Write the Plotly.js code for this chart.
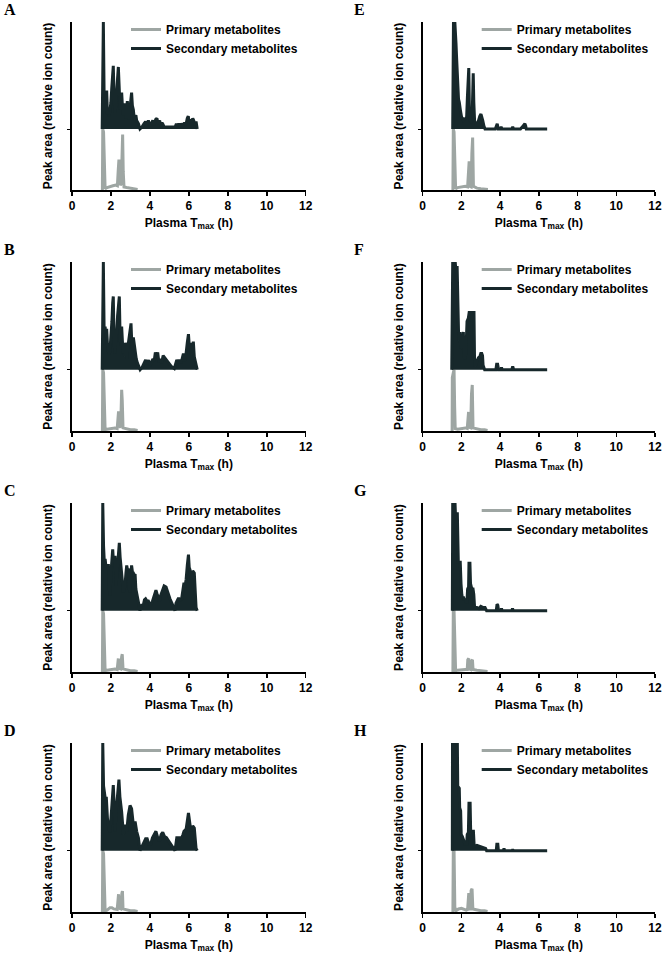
<!DOCTYPE html>
<html><head><meta charset="utf-8">
<script src="https://cdn.plot.ly/plotly-3.0.1.min.js"></script>
<style>html,body{margin:0;padding:0;background:#fff}#chart{width:663px;height:957px}</style>
</head><body><div id="chart"></div>
<script>
// ---------- DATA ----------
const panelLetters = ['A','B','C','D','E','F','G','H'];
const seriesNames = ['Primary metabolites','Secondary metabolites'];
const xTickValues = [0,2,4,6,8,10,12];
const xTickLabels = ['0','2','4','6','8','10','12'];
const xTitle = 'Plasma T<sub>max</sub> (h)';
const yTitle = 'Peak area (relative ion count)';

// [Tmax (h), relative peak area 0-100]
const primaryA = [[1.56,0],[1.58,100],[1.62,95],[1.66,10],[1.70,2],[1.8,4],[1.95,6],[2.1,7],[2.25,8],[2.33,7],[2.37,30],[2.41,50],[2.44,20],[2.48,8],[2.53,10],[2.57,60],[2.6,91],[2.63,30],[2.67,5],[2.8,4],[3.0,3],[3.2,2],[3.37,1]];
const secondaryA = [[1.55,0],[1.58,60],[1.61,100],[1.65,30],[1.70,17],[1.74,28],[1.78,36],[1.82,14],[1.87,20],[1.91,12],[1.95,18],[2.00,25],[2.04,38],[2.08,50],[2.12,59],[2.16,30],[2.21,15],[2.25,22],[2.29,30],[2.33,45],[2.38,58],[2.42,35],[2.47,18],[2.51,26],[2.55,34],[2.60,18],[2.64,13],[2.68,24],[2.72,17],[2.78,10],[2.84,26],[2.89,12],[2.93,9],[2.98,20],[3.02,30],[3.06,34],[3.10,22],[3.15,18],[3.20,9],[3.24,11],[3.28,13],[3.32,8],[3.41,5],[3.49,0],[3.60,2],[3.70,5],[3.78,7],[3.85,3],[3.92,8],[4.00,4],[4.08,5],[4.15,8],[4.22,4],[4.30,9],[4.36,10],[4.42,5],[4.50,8],[4.56,3],[4.62,6],[4.68,4],[4.72,2],[5.00,2],[5.30,2],[5.36,5],[5.42,3],[5.48,5],[5.55,2],[5.62,5],[5.70,3],[5.78,6],[5.85,4],[5.92,10],[5.97,12],[6.02,6],[6.08,9],[6.14,5],[6.20,10],[6.25,8],[6.31,4],[6.37,7],[6.43,0]];

const primaryB = [[1.56,0],[1.58,100],[1.62,95],[1.66,8],[1.70,2],[1.8,3],[2.0,4],[2.2,5],[2.32,4],[2.36,20],[2.39,32],[2.42,8],[2.5,6],[2.55,67],[2.58,50],[2.62,5],[2.8,3],[3.0,2],[3.2,2],[3.37,1]];
const secondaryB = [[1.55,0],[1.58,60],[1.61,100],[1.65,35],[1.70,40],[1.74,30],[1.78,38],[1.83,20],[1.90,14],[1.95,18],[2.00,28],[2.05,45],[2.09,62],[2.12,68],[2.16,25],[2.21,15],[2.25,30],[2.29,34],[2.34,50],[2.39,62],[2.43,68],[2.47,30],[2.51,22],[2.55,40],[2.58,30],[2.62,15],[2.66,20],[2.70,12],[2.74,25],[2.78,12],[2.82,10],[2.86,20],[2.90,26],[2.95,30],[3.00,38],[3.03,43],[3.07,25],[3.11,18],[3.15,30],[3.19,25],[3.24,15],[3.30,10],[3.36,6],[3.44,3],[3.50,0],[3.60,2],[3.70,6],[3.78,9],[3.86,5],[3.94,9],[4.00,4],[4.08,6],[4.15,10],[4.22,8],[4.28,16],[4.34,13],[4.40,16],[4.46,7],[4.52,10],[4.60,6],[4.68,13],[4.80,10],[4.95,6],[5.10,3],[5.25,1],[5.32,6],[5.38,9],[5.45,7],[5.52,9],[5.60,6],[5.66,10],[5.72,15],[5.78,8],[5.85,14],[5.92,25],[5.98,33],[6.03,20],[6.08,25],[6.12,14],[6.18,22],[6.23,26],[6.28,12],[6.34,8],[6.38,4],[6.43,0]];

const primaryC = [[1.56,0],[1.58,100],[1.62,95],[1.66,8],[1.70,2],[1.8,3],[2.0,4],[2.2,5],[2.32,4],[2.35,15],[2.38,22],[2.42,6],[2.5,5],[2.55,25],[2.58,29],[2.62,5],[2.8,3],[3.0,2],[3.2,2],[3.37,1]];
const secondaryC = [[1.55,0],[1.58,100],[1.62,60],[1.66,45],[1.70,48],[1.75,40],[1.80,42],[1.87,42],[1.92,20],[1.95,14],[2.00,35],[2.04,48],[2.09,57],[2.13,45],[2.16,48],[2.21,51],[2.26,23],[2.30,35],[2.33,42],[2.38,55],[2.43,63],[2.47,50],[2.50,45],[2.55,38],[2.60,25],[2.64,17],[2.68,20],[2.72,23],[2.77,35],[2.81,42],[2.85,38],[2.89,38],[2.94,20],[2.98,17],[3.02,32],[3.06,42],[3.11,35],[3.15,35],[3.20,33],[3.24,34],[3.28,20],[3.32,17],[3.41,8],[3.49,0],[3.58,5],[3.66,5],[3.72,10],[3.78,11],[3.85,9],[3.92,9],[4.04,5],[4.12,8],[4.18,11],[4.25,15],[4.31,19],[4.36,16],[4.40,14],[4.49,9],[4.55,14],[4.61,17],[4.67,20],[4.73,23],[4.83,22],[4.93,16],[5.03,11],[5.15,6],[5.29,0],[5.34,7],[5.38,9],[5.45,11],[5.51,11],[5.57,10],[5.63,11],[5.70,18],[5.75,26],[5.80,22],[5.86,29],[5.92,42],[5.98,52],[6.02,40],[6.06,38],[6.11,29],[6.16,33],[6.20,37],[6.28,35],[6.33,15],[6.37,3],[6.43,0]];

const primaryD = [[1.56,0],[1.58,100],[1.62,95],[1.66,8],[1.70,2],[1.8,3],[1.95,7],[2.05,7],[2.15,5],[2.32,4],[2.36,20],[2.39,29],[2.42,6],[2.5,5],[2.56,30],[2.59,34],[2.62,5],[2.8,3],[3.0,2],[3.2,2],[3.37,1]];
const secondaryD = [[1.55,0],[1.58,100],[1.62,60],[1.66,52],[1.71,48],[1.76,50],[1.82,30],[1.90,20],[1.95,17],[2.04,40],[2.12,61],[2.17,40],[2.21,18],[2.26,35],[2.33,50],[2.41,66],[2.46,50],[2.55,36],[2.64,15],[2.72,24],[2.81,18],[2.89,33],[2.98,42],[3.06,39],[3.15,24],[3.24,27],[3.32,18],[3.41,12],[3.49,0],[3.60,5],[3.70,8],[3.78,11],[3.86,11],[3.95,6],[4.04,6],[4.13,12],[4.22,15],[4.31,18],[4.40,12],[4.49,9],[4.58,15],[4.66,17],[4.75,13],[4.85,12],[5.00,8],[5.15,4],[5.29,0],[5.38,12],[5.51,12],[5.63,12],[5.70,15],[5.75,18],[5.86,20],[5.92,28],[5.98,35],[6.06,24],[6.11,18],[6.16,20],[6.20,23],[6.28,21],[6.33,12],[6.37,2],[6.43,0]];

const primaryE = [[1.56,0],[1.58,100],[1.62,95],[1.66,8],[1.70,2],[1.8,4],[2.0,5],[2.2,6],[2.32,5],[2.36,30],[2.40,47],[2.43,6],[2.5,5],[2.54,60],[2.58,86],[2.62,6],[2.8,3],[3.0,2],[3.2,2],[3.37,1]];
const secondaryE = [[1.55,0],[1.57,70],[1.59,100],[1.66,100],[1.68,85],[1.72,80],[1.75,67],[1.79,50],[1.82,45],[1.85,28],[1.89,25],[1.92,18],[1.96,16],[2.01,11],[2.06,10],[2.10,8],[2.16,9],[2.22,10],[2.27,11],[2.31,30],[2.35,45],[2.38,57],[2.41,20],[2.44,8],[2.50,7],[2.55,10],[2.58,30],[2.61,52],[2.64,25],[2.68,8],[2.74,5],[2.79,3],[2.85,6],[2.90,10],[2.95,12],[3.01,14],[3.05,12],[3.10,8],[3.16,3],[3.22,0],[3.75,0],[3.80,4],[3.85,5],[3.9,0],[4.0,0],[4.05,2],[4.1,0],[4.6,0],[4.65,2],[4.7,0],[5.05,0],[5.15,2],[5.22,4],[5.28,5],[5.32,3],[5.35,0],[6.43,0]];

const primaryF = [[1.52,0],[1.53,87],[1.58,95],[1.62,100],[1.65,40],[1.68,4],[1.8,3],[2.0,4],[2.2,5],[2.30,4],[2.34,25],[2.37,31],[2.40,6],[2.48,5],[2.52,60],[2.56,75],[2.60,5],[2.8,3],[3.0,2],[3.2,2],[3.35,1]];
const secondaryF = [[1.50,0],[1.52,90],[1.55,100],[1.68,100],[1.70,95],[1.78,95],[1.81,70],[1.84,66],[1.86,27],[1.90,30],[1.93,35],[1.96,20],[2.01,21],[2.06,28],[2.10,35],[2.14,12],[2.20,10],[2.24,20],[2.29,45],[2.36,48],[2.40,53],[2.44,53],[2.48,45],[2.52,53],[2.58,53],[2.65,53],[2.68,5],[2.72,3],[2.80,8],[2.88,11],[2.95,12],[3.00,15],[3.05,15],[3.09,13],[3.12,4],[3.20,0],[3.78,0],[3.82,5],[3.87,5],[3.92,0],[4.03,0],[4.07,2],[4.11,0],[4.6,0],[4.65,3],[4.7,0],[6.43,0]];

const primaryG = [[1.56,0],[1.58,100],[1.62,100],[1.66,8],[1.70,2],[1.8,3],[2.0,4],[2.2,4],[2.30,4],[2.33,20],[2.38,22],[2.41,5],[2.48,4],[2.52,18],[2.57,20],[2.60,4],[2.8,3],[3.0,2],[3.2,2],[3.35,1]];
const secondaryG = [[1.53,0],[1.55,100],[1.67,100],[1.69,90],[1.79,90],[1.82,55],[1.84,45],[1.94,45],[1.96,30],[1.98,25],[2.02,15],[2.05,12],[2.10,13],[2.15,10],[2.19,11],[2.24,8],[2.28,7],[2.32,20],[2.37,22],[2.39,44],[2.44,44],[2.47,25],[2.50,22],[2.54,20],[2.60,20],[2.64,15],[2.68,3],[2.80,3],[2.90,2],[3.00,4],[3.10,3],[3.22,3],[3.30,0],[3.80,0],[3.84,6],[3.88,5],[3.92,0],[4.04,0],[4.07,2],[4.10,0],[4.6,0],[4.64,2],[4.68,0],[6.43,0]];

const primaryH = [[1.56,0],[1.58,100],[1.62,100],[1.66,8],[1.72,2],[1.85,5],[2.0,6],[2.1,5],[2.25,3],[2.32,4],[2.35,28],[2.38,31],[2.41,5],[2.47,5],[2.50,35],[2.55,38],[2.59,5],[2.8,3],[3.0,2],[3.2,2],[3.35,1]];
const secondaryH = [[1.53,0],[1.54,100],[1.79,100],[1.81,60],[1.89,58],[1.91,40],[1.96,37],[1.99,15],[2.05,13],[2.10,10],[2.19,6],[2.27,6],[2.30,15],[2.36,17],[2.39,44],[2.45,44],[2.48,16],[2.53,18],[2.62,18],[2.66,4],[2.80,5],[2.95,4],[3.10,3],[3.25,2],[3.30,0],[3.80,0],[3.83,6],[3.88,6],[3.91,0],[4.17,0],[4.2,2],[4.23,0],[4.62,0],[4.65,1],[4.68,0],[6.43,0]];

const primaryData = [primaryA,primaryB,primaryC,primaryD,primaryE,primaryF,primaryG,primaryH];
const secondaryData = [secondaryA,secondaryB,secondaryC,secondaryD,secondaryE,secondaryF,secondaryG,secondaryH];

// ---------- STYLE / LAYOUT ----------
const W = 663, H = 957;
const colL = [72, 422.7], colR = [305.7, 655];
const rowTop = [22, 262, 503, 743], rowBase = [190, 431, 672, 912];
const letterX = [2, 352];
const OFFSET = 0.363; // fraction of plot height where secondary baseline sits
const primColor = '#9ea6a3', secColor = '#17282b';
const fam = 'Liberation Sans, Arial, sans-serif';
const bfont = {family: fam, size: 12, color: '#000', weight: 'bold'};

const data = [];
const layout = {
  width: W, height: H, margin: {l:0, r:0, t:0, b:0},
  paper_bgcolor: '#fff', plot_bgcolor: 'rgba(0,0,0,0)',
  showlegend: true, annotations: []
};

for (let i = 0; i < 8; i++) {
  const col = i < 4 ? 0 : 1, row = i % 4;
  const xn = i === 0 ? '' : String(i + 1);
  const yn = i === 0 ? '' : String(i + 1);
  const y2n = String(i + 9);
  const lg = i === 0 ? 'legend' : 'legend' + (i + 1);
  const xs = a => a.map(p => p[0]);
  const ys = a => a.map(p => p[1]);

  data.push({type:'scatter', mode:'lines', x: xs(secondaryData[i]), y: ys(secondaryData[i]),
    xaxis:'x'+xn, yaxis:'y'+y2n, fill:'tozeroy', fillcolor: secColor,
    line:{color: secColor, width: 0}, showlegend:false, hoverinfo:'skip'});
  data.push({type:'scatter', mode:'lines', name: seriesNames[0], x: xs(primaryData[i]), y: ys(primaryData[i]),
    xaxis:'x'+xn, yaxis:'y'+yn, line:{color: primColor, width: 3}, legend: lg});
  data.push({type:'scatter', mode:'lines', name: seriesNames[1], x: xs(secondaryData[i]), y: ys(secondaryData[i]),
    xaxis:'x'+xn, yaxis:'y'+y2n, line:{color: secColor, width: 3}, legend: lg});

  layout['xaxis' + xn] = {
    domain: [colL[col] / W, colR[col] / W], anchor: 'y' + yn, range: [0, 12],
    tickvals: xTickValues, ticktext: xTickLabels, ticks: 'outside', ticklen: 4, tickwidth: 1.5, tickcolor: '#000',
    showline: true, linewidth: 2, linecolor: '#000', showgrid: false, zeroline: false,
    tickfont: bfont, title: {text: xTitle, font: bfont, standoff: 6}, fixedrange: true
  };
  layout['yaxis' + yn] = {
    domain: [1 - rowBase[row] / H, 1 - rowTop[row] / H], anchor: 'x' + xn, range: [0, 100 / OFFSET],
    showline: true, linewidth: 2, linecolor: '#000', showgrid: false, zeroline: false,
    showticklabels: false, tickvals: [100], ticks: 'outside', ticklen: 3, tickcolor: '#000',
    title: {text: yTitle, font: bfont, standoff: 12}, fixedrange: true
  };
  layout['yaxis' + y2n] = {
    overlaying: 'y' + yn, anchor: 'x' + xn,
    range: [-OFFSET / (1 - OFFSET) * 100, 100], visible: false, fixedrange: true
  };
  layout[lg] = {
    x: (colL[col] + 54) / W, y: 1 - (rowTop[row] - 7) / H, xanchor: 'left', yanchor: 'top',
    bgcolor: 'rgba(0,0,0,0)', borderwidth: 0, font: bfont, tracegroupgap: 0, traceorder: 'normal'
  };
  layout.annotations.push({
    text: panelLetters[i], xref: 'paper', yref: 'paper', showarrow: false,
    x: letterX[col] / W, y: 1 - (rowTop[row] - 12.5) / H, xanchor: 'left', yanchor: 'middle',
    font: {family: 'Liberation Serif, Times New Roman, serif', size: 16, color: '#000', weight: 'bold'}
  });
}

Plotly.newPlot('chart', data, layout, {staticPlot: true, displayModeBar: false});
</script></body></html>
